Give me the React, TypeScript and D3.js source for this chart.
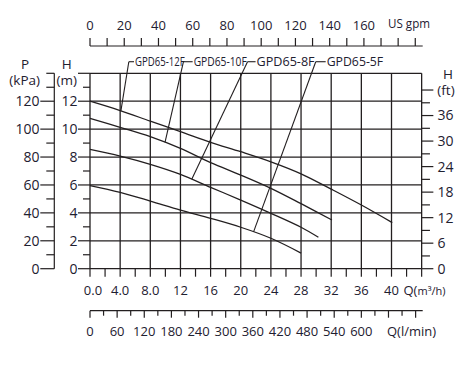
import React from "react";
import * as d3 from "d3";

// ---------- data ----------
const q12F = [0, 4, 8, 12, 16, 20, 24, 28, 32, 36, 40.1];
const h12F = [12.0, 11.33, 10.57, 9.82, 9.05, 8.38, 7.66, 6.8, 5.7, 4.56, 3.3];
const q10F = [0, 4, 8, 12, 16, 20, 24, 28, 32.1];
const h10F = [10.77, 10.13, 9.46, 8.62, 7.6, 6.71, 5.76, 4.66, 3.49];
const q8F = [0, 4, 8, 12, 16, 20, 24, 28, 30.3];
const h8F = [8.55, 8.07, 7.48, 6.76, 5.83, 4.92, 3.97, 2.97, 2.25];
const q5F = [0, 4, 8, 12, 16, 20, 24, 28];
const h5F = [5.96, 5.47, 4.85, 4.2, 3.61, 2.97, 2.18, 1.12];

const seriesNames = ["GPD65-12F", "GPD65-10F", "GPD65-8F", "GPD65-5F"];
const leaderCurveQ = [4.1, 9.95, 13.5, 21.7];
const leaderTopQ = [5.15, 12.4, 20.9, 29.95];
const labelQ = [5.97, 13.75, 22.1, 31.4];
const labelWidthQ = [6.6, 7.05, 7.7, 7.5];

const qTickLabels = ["0.0", "4.0", "8.0", "12", "16", "20", "24", "28", "32", "36", "40"];
const qTickValues = [0, 4, 8, 12, 16, 20, 24, 28, 32, 36, 40];
const gpmLabels = [0, 20, 40, 60, 80, 100, 120, 140, 160];
const lminLabels = [0, 60, 120, 180, 240, 300, 360, 420, 480, 540, 600];
const kpaLabels = [0, 20, 40, 60, 80, 100, 120];
const mLabels = [0, 2, 4, 6, 8, 10, 12];
const ftLabels = [0, 6, 12, 18, 24, 30, 36];

// ---------- layout ----------
const W = 468, H = 367;
const X0 = 90, X1 = 421.65, Y0 = 268.7, Y1 = 73.3;
const QMAX = 44, HMAX = 14;
const INK = "#231f20";
const TXT = "#1e2030";
const FONT = "'Open Sans', 'Noto Sans', sans-serif";

export default function App() {
  const x = d3.scaleLinear().domain([0, QMAX]).range([X0, X1]);
  const y = d3.scaleLinear().domain([0, HMAX]).range([Y0, Y1]);
  const yKpa = d3.scaleLinear().domain([0, HMAX * 10]).range([Y0, Y1]);
  const yFt = d3.scaleLinear().domain([0, HMAX / 0.3048]).range([Y0, Y1]);
  const xGpm = d3.scaleLinear().domain([0, QMAX / 0.227125]).range([X0, X1]);
  const xLmin = d3.scaleLinear().domain([0, QMAX * 1000 / 60]).range([X0, X1]);

  const series = [
    { q: q12F, h: h12F },
    { q: q10F, h: h10F },
    { q: q8F, h: h8F },
    { q: q5F, h: h5F },
  ];
  const line = d3
    .line<[number, number]>()
    .x((d) => x(d[0]))
    .y((d) => y(d[1]))
    .curve(d3.curveCatmullRom.alpha(0.5));

  const interp = (s: { q: number[]; h: number[] }, qv: number) => {
    for (let i = 0; i < s.q.length - 1; i++) {
      if (qv >= s.q[i] && qv <= s.q[i + 1]) {
        const t = (qv - s.q[i]) / (s.q[i + 1] - s.q[i]);
        return s.h[i] + t * (s.h[i + 1] - s.h[i]);
      }
    }
    return s.h[s.h.length - 1];
  };

  const labelH = 14.83;
  const els: React.ReactNode[] = [];

  // grid
  d3.range(0, QMAX + 0.01, 4).forEach((v) =>
    els.push(<line key={"gv" + v} x1={x(v)} x2={x(v)} y1={Y1} y2={Y0} stroke={INK} strokeWidth={1.3} />)
  );
  d3.range(0, HMAX + 0.01, 2).forEach((v) =>
    els.push(<line key={"gh" + v} x1={x(0)} x2={X1} y1={y(v)} y2={y(v)} stroke={INK} strokeWidth={1.3} />)
  );
  // bottom ticks every 2 m3/h
  d3.range(0, QMAX + 0.01, 2).forEach((v) =>
    els.push(<line key={"bt" + v} x1={x(v)} x2={x(v)} y1={Y0} y2={Y0 + 8} stroke={INK} strokeWidth={1.2} />)
  );
  qTickValues.forEach((v, i) =>
    els.push(
      <text key={"ql" + v} x={x(v) + (i === 0 ? 3 : 0)} y={290} dy="0.35em" textAnchor="middle" fontSize={13} fill={TXT} fontFamily={FONT}>
        {qTickLabels[i]}
      </text>
    )
  );
  els.push(
    <text key="qunit" x={403.5} y={290} dy="0.35em" fontSize={13} fill={TXT} fontFamily={FONT}>
      Q(<tspan fontSize={11}>m³/h)</tspan>
    </text>
  );

  // left H (m) ticks
  d3.range(0, HMAX + 0.01, 1).forEach((v) => {
    const major = v % 2 === 0;
    els.push(<line key={"mt" + v} x1={X0 - (major ? 12 : 7)} x2={X0} y1={y(v)} y2={y(v)} stroke={INK} strokeWidth={1.2} />);
  });
  mLabels.forEach((v) =>
    els.push(
      <text key={"ml" + v} x={77.5} y={y(v)} dy="0.35em" textAnchor="end" fontSize={14} fill={TXT} fontFamily={FONT}>
        {v}
      </text>
    )
  );

  // kPa axis
  const PX = 54.3;
  els.push(<line key="pax" x1={PX} x2={PX} y1={Y1} y2={Y0} stroke={INK} strokeWidth={1.2} />);
  d3.range(0, 140.01, 10).forEach((v) => {
    const major = v % 20 === 0 && v < 140;
    els.push(<line key={"pt" + v} x1={PX - (major ? 14 : 8)} x2={PX} y1={yKpa(v)} y2={yKpa(v)} stroke={INK} strokeWidth={1.2} />);
  });
  kpaLabels.forEach((v) =>
    els.push(
      <text key={"pl" + v} x={39.5} y={yKpa(v)} dy="0.35em" textAnchor="end" fontSize={14} fill={TXT} fontFamily={FONT}>
        {v}
      </text>
    )
  );

  // ft axis
  d3.range(0, 42.01, 3).forEach((v) => {
    const major = v % 6 === 0;
    els.push(<line key={"ft" + v} x1={X1} x2={X1 + (major ? 11.7 : 8.3)} y1={yFt(v)} y2={yFt(v)} stroke={INK} strokeWidth={1.2} />);
  });
  ftLabels.forEach((v) =>
    els.push(
      <text key={"fl" + v} x={437.5} y={yFt(v)} dy="0.35em" fontSize={14} fill={TXT} fontFamily={FONT}>
        {v}
      </text>
    )
  );

  // top gpm axis
  const GY = 46;
  els.push(<line key="gax" x1={X0} x2={422.7} y1={GY} y2={GY} stroke={INK} strokeWidth={1.2} />);
  d3.range(0, 190.01, 10).forEach((v) =>
    els.push(<line key={"gt" + v} x1={xGpm(v)} x2={xGpm(v)} y1={GY - 8} y2={GY} stroke={INK} strokeWidth={1.2} />)
  );
  gpmLabels.forEach((v) =>
    els.push(
      <text key={"gl" + v} x={xGpm(v)} y={25} dy="0.35em" textAnchor="middle" fontSize={13} fill={TXT} fontFamily={FONT}>
        {v}
      </text>
    )
  );
  els.push(
    <text key="gunit" x={388} y={24} dy="0.35em" fontSize={12.5} fill={TXT} fontFamily={FONT} textLength={42} lengthAdjust="spacingAndGlyphs">
      US gpm
    </text>
  );

  // l/min axis
  const LY = 310.7;
  els.push(<line key="lax" x1={X0} x2={422.7} y1={LY} y2={LY} stroke={INK} strokeWidth={1.2} />);
  d3.range(0, 720.01, 30).forEach((v) => {
    const major = v % 60 === 0;
    els.push(<line key={"lt" + v} x1={xLmin(v)} x2={xLmin(v)} y1={LY} y2={LY + (major ? 7 : 5)} stroke={INK} strokeWidth={1.2} />);
  });
  lminLabels.forEach((v) =>
    els.push(
      <text key={"ll" + v} x={xLmin(v)} y={331.5} dy="0.35em" textAnchor="middle" fontSize={13} fill={TXT} fontFamily={FONT}>
        {v}
      </text>
    )
  );
  els.push(
    <text key="lunit" x={387} y={331.5} dy="0.35em" fontSize={13} fill={TXT} fontFamily={FONT}>
      Q(l/min)
    </text>
  );

  // axis titles
  const title = (k: string, tx: number, ty: number, t: string) =>
    els.push(
      <text key={k} x={tx} y={ty} dy="0.35em" textAnchor="middle" fontSize={13.5} fill={TXT} fontFamily={FONT}>
        {t}
      </text>
    );
  title("tP", 25, 64, "P");
  title("tkPa", 24.7, 80.5, "(kPa)");
  title("tH", 66.7, 64, "H");
  title("tm", 66.7, 80.5, "(m)");
  title("tHf", 448, 74, "H");
  title("tft", 446, 90, "(ft)");

  // curves
  series.forEach((s, i) => {
    const pts = s.q.map((qv, j) => [qv, s.h[j]] as [number, number]);
    els.push(<path key={"c" + i} d={line(pts) || ""} fill="none" stroke={INK} strokeWidth={1.3} />);
  });

  // leaders + labels
  seriesNames.forEach((name, i) => {
    const bq = leaderCurveQ[i];
    const bx = x(bq), by = y(interp(series[i], bq));
    const tx = x(leaderTopQ[i]), ty = y(labelH);
    const lx = x(labelQ[i]);
    els.push(<line key={"ld" + i} x1={bx} y1={by} x2={tx} y2={ty} stroke={INK} strokeWidth={1.1} />);
    els.push(<line key={"lh" + i} x1={tx} y1={ty} x2={lx - 1} y2={ty} stroke={INK} strokeWidth={1.1} />);
    els.push(
      <text key={"lt" + i} x={lx} y={ty} dy="0.36em" fontSize={13} fill={TXT} fontFamily={FONT}
        textLength={x(labelWidthQ[i]) - X0} lengthAdjust="spacingAndGlyphs">
        {name}
      </text>
    );
  });

  return (
    <svg width={W} height={H} style={{ position: "absolute", left: 0, top: 0, background: "#fff" }}>
      {els}
    </svg>
  );
}
